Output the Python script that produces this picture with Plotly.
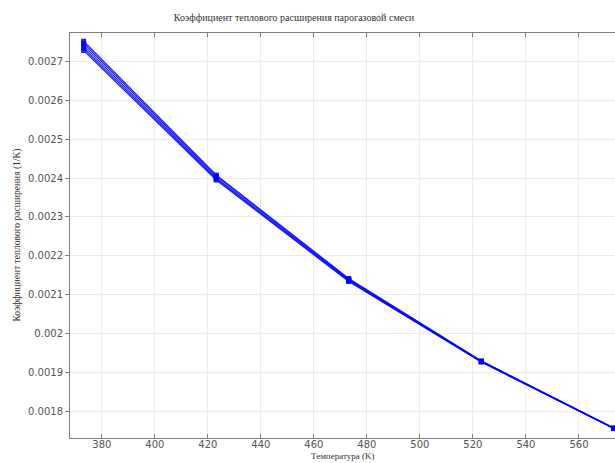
import plotly.graph_objects as go

# Temperature points (K)
temperature = [373.15, 423.15, 473.15, 523.15, 573.15]

# Thermal expansion coefficient of the vapour-gas mixture (1/K), one list per case
alpha_1 = [0.002752, 0.002408, 0.002142, 0.001930, 0.001757]
alpha_2 = [0.002746, 0.002405, 0.002140, 0.001929, 0.001757]
alpha_3 = [0.002740, 0.002401, 0.002138, 0.001928, 0.001757]
alpha_4 = [0.002734, 0.002398, 0.002136, 0.001928, 0.001756]
alpha_5 = [0.002728, 0.002395, 0.002134, 0.001927, 0.001756]

x_ticks = [380, 400, 420, 440, 460, 480, 500, 520, 540, 560]
y_ticks = [0.0018, 0.0019, 0.002, 0.0021, 0.0022, 0.0023, 0.0024, 0.0025, 0.0026, 0.0027]

fig = go.Figure()
for series in [alpha_1, alpha_2, alpha_3, alpha_4, alpha_5]:
    fig.add_trace(go.Scatter(
        x=temperature, y=series, mode="lines+markers",
        line=dict(color="#0000ff", width=1.2),
        marker=dict(color="#0000ff", size=5, symbol="square"),
        opacity=0.85,
        showlegend=False,
    ))

serif = "Liberation Serif, Times New Roman, serif"
sans = "DejaVu Sans, sans-serif"

fig.update_layout(
    width=615, height=463,
    margin=dict(l=70, r=0, t=33, b=25),
    paper_bgcolor="white", plot_bgcolor="white",
    title=dict(text="Коэффициент теплового расширения парогазовой смеси",
               x=294 / 615, xref="container", xanchor="center",
               y=1 - 17 / 463, yref="container", yanchor="middle",
               font=dict(family=serif, size=10, color="#333333")),
    xaxis=dict(
        range=[368.0, 573.6], tickvals=x_ticks,
        ticks="inside", ticklen=4, tickcolor="#808080", mirror="ticks",
        ticklabelstandoff=-3,
        showline=True, linecolor="#808080", linewidth=1,
        showgrid=True, gridcolor="#ebebeb", gridwidth=1, zeroline=False,
        tickfont=dict(family=sans, size=10, color="#555555"),
    ),
    yaxis=dict(
        range=[0.0017317, 0.0027731], tickvals=y_ticks,
        ticktext=[str(v) for v in y_ticks],
        ticks="outside", ticklen=4, tickcolor="#808080",
        showline=True, linecolor="#808080", linewidth=1,
        showgrid=True, gridcolor="#ebebeb", gridwidth=1, zeroline=False,
        tickfont=dict(family=sans, size=10, color="#555555"),
    ),
    annotations=[
        dict(text="Температура (K)", xref="paper", x=0.5, yref="paper",
             y=0, yshift=-25, yanchor="bottom", xanchor="center", showarrow=False,
             font=dict(family=serif, size=9, color="#333333")),
        dict(text="Коэффициент теплового расширения (1/K)", textangle=-90,
             xref="paper", x=0, xshift=-53, xanchor="center",
             yref="paper", y=0.5, yanchor="middle", showarrow=False,
             font=dict(family=serif, size=9.5, color="#333333")),
    ],
)

fig.write_html("out.html")
